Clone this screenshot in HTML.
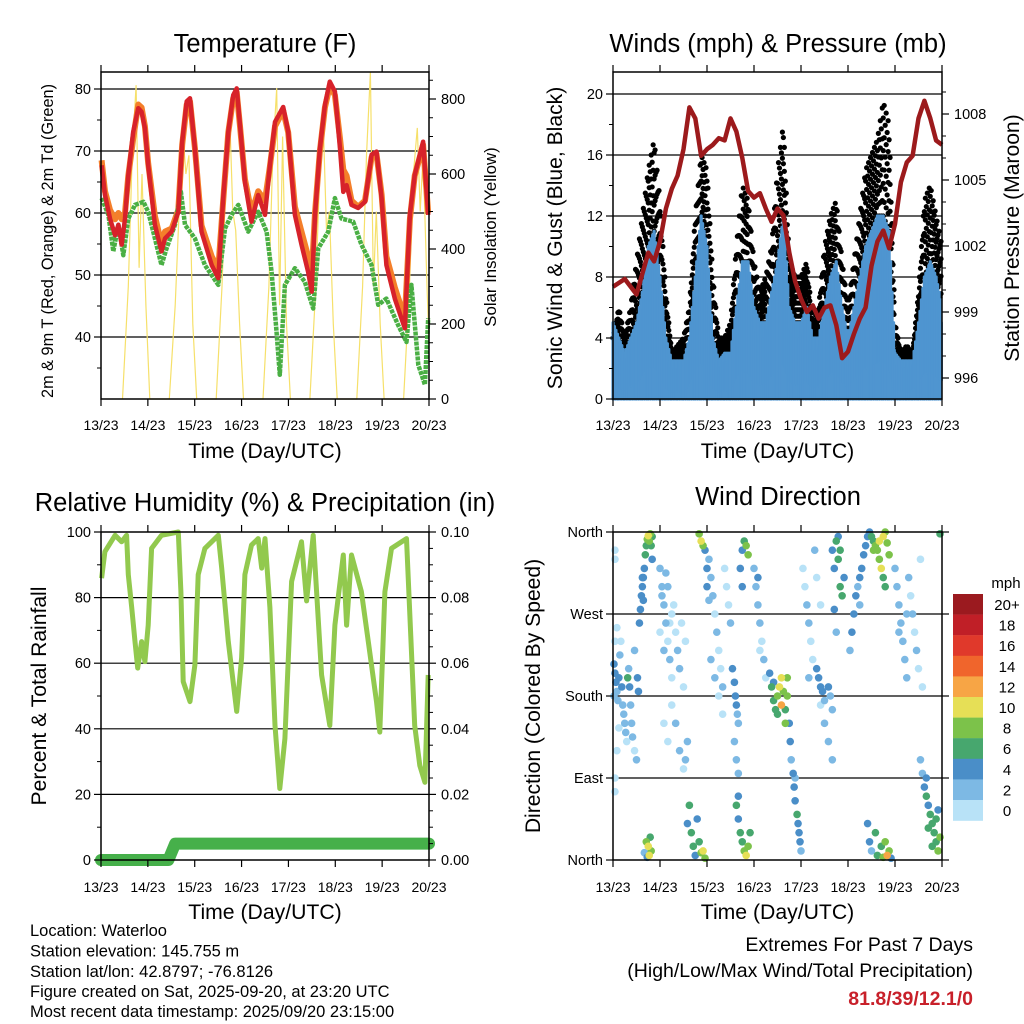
<!DOCTYPE html>
<html><head><meta charset="utf-8"><style>
html,body{margin:0;padding:0;background:#fff;}
svg{display:block;font-family:"Liberation Sans",Arial,sans-serif;}
</style></head><body>
<svg id="fig" width="1024" height="1024" viewBox="0 0 1024 1024" xmlns="http://www.w3.org/2000/svg">
<rect width="1024" height="1024" fill="#fff"/>
<g id="g1"></g>
<g id="g2"></g>
<g id="g3"></g>
<g id="g4"></g>
<g id="gtext">
<text x="30" y="936" font-size="16.5">Location: Waterloo</text>
<text x="30" y="956.5" font-size="16.5">Station elevation: 145.755 m</text>
<text x="30" y="977" font-size="16.5">Station lat/lon: 42.8797; -76.8126</text>
<text x="30" y="997" font-size="16.5">Figure created on Sat, 2025-09-20, at 23:20 UTC</text>
<text x="30" y="1017" font-size="16.5">Most recent data timestamp: 2025/09/20 23:15:00</text>
<text x="973" y="951" font-size="19.5" text-anchor="end">Extremes For Past 7 Days</text>
<text x="973" y="977" font-size="19.5" text-anchor="end">(High/Low/Max Wind/Total Precipitation)</text>
<text x="973" y="1005" font-size="19.5" font-weight="bold" fill="#c8202a" text-anchor="end">81.8/39/12.1/0</text>
</g>
</svg>
<script>
// ---------- DATA ----------
const dayLabels = ["13/23","14/23","15/23","16/23","17/23","18/23","19/23","20/23"];
// Temperature (F)
const tRedH = [0.3,2.05,4.6,7.2,8.9,10.6,12.3,14,16.5,19.1,20.8,22.5,24.2,27.6,31,32.8,36.2,39.6,41.6,43.9,45.6,48.1,51.5,56.7,60.1,62.6,65.2,67.7,69.5,71.2,73.7,77.1,80.5,84,86.5,89.1,93.3,95.9,99.3,102.7,106.1,107.9,109.6,112.1,114.7,117.2,119.8,122.4,124.1,125.8,128.3,131.7,135.2,138.6,141.1,143.7,146.2,150.5,155.6,158.2,160.7,165,167.6];
const tRed = [67.7,62.9,59.1,56.4,58.1,54.9,59.1,66.1,73.1,76.9,76.3,73.7,67.7,58.1,53.8,55.9,57,60.2,71.5,78,78.5,70.4,57,51.6,49.5,62.4,73.1,79,80.1,74.2,65,58.6,62.9,59.7,67.7,74.7,77.1,73.1,59.7,54.9,50.5,47.3,59.7,70.4,77.4,81.2,79.6,70.4,63.4,64.5,61.3,60.8,61.8,69.4,69.9,62.4,51.6,46.2,41.4,59.7,66.1,71.5,59.7];
const tOrange = [68.5,63.5,60.5,59,60,59,60,66,72,77.5,77,74,68,59.5,55,57,57.5,60.5,71,77.5,78,70.5,58,53,51,62,73,78.5,79.5,74,65.5,60,63.5,62,67.5,74,76.5,73,61,57,53,50,60,70,77,80.5,79,72,67,66,62,61,62,69,69.5,63,53,48,43,59,66,71,60];
const tdH = [0.3,3.8,6.3,8.9,11.4,14,17.4,21.7,24.2,27.6,31,33.6,37.9,40.9,43,48.1,53.2,60.1,63.5,66.9,70.3,75.4,80.5,84.8,87.4,89.9,91.6,94.2,99.3,104.4,108.7,111.3,116.4,119.8,123.2,129.2,133.4,138.6,142,146.2,152.2,156.5,159,162.5,165.9,167.6];
const td = [62.4,59.7,53.8,58.1,53.2,59.1,61.3,61.8,60.2,55.9,51.6,54.3,58.1,63.4,58.1,55.9,51.6,48.4,57.5,59.7,61.3,57,60.2,57,50.5,40.9,33.9,48.4,51.1,48.9,44.6,54.3,57,62.4,59.1,58.6,54.9,51.6,45.2,46.2,41.9,39.2,48.4,35.5,32.3,43];
const solarH = [11,14,16,18,19.5,21,23,25, 35,38,40,42,43.5,45,47,49, 59,62,64,66,67.5,69,71,73, 83,86,88,90,91.5,93,95,97, 107,110,112,114,115.5,117,119,121, 131,134,136,138,139.5,141,143,145, 155,158,160,162,163.5,165,167,168];
const solarV = [0,300,650,837,350,600,250,0, 0,250,500,704,600,650,200,0, 0,300,600,738,500,450,200,0, 0,300,650,829,250,700,200,0, 0,300,600,704,450,500,200,0, 0,300,650,872,300,500,200,0, 0,300,600,723,500,650,300,150];
// Winds (mph), 3-hourly
const windH = [0,3,6,9,12,15,18,21,24,27,30,33,36,39,42,45,48,51,54,57,60,63,66,69,72,75,78,81,84,87,90,93,96,99,102,105,108,111,114,117,120,123,126,129,132,135,138,141,144,147,150,153,156,159,162,165,168];
const gust = [4,6,4,6,9,12,15,17,13,7,3,3.5,4,6,12,16,15,8,4,4,5,10,14,13,9,7,8,10,15,18,9,8,8,9,5,6,10,12,13,9,6,9,12,15,16,17,19.5,18,5,3,3.5,3,7,13,14,12,10];
const wind = [5,4,3,4,5,7,10,11,8,4,2.5,2.5,2.5,4,8,12,10,4,2.5,3,3,6,9,9,6,5,5,7,9,12,6,5,5,6,4,4,6,8,9,6,4,6,8,10,11,12,12,11,3,2.5,2.5,2.5,5,8,9,8,6];
// Pressure (mb)
const presH = [0,6,12,18,21,24,27,30,33,36,39,42,45,48,51,54,57,60,63,66,69,72,75,78,81,84,87,90,93,96,99,102,105,108,111,114,117,120,123,126,129,132,135,138,141,144,147,150,153,156,159,162,165,168];
const pres = [1000.15,1000.5,999.8,1001.7,1001.3,1002.2,1003.7,1004.6,1005.2,1006.4,1008.3,1007.8,1006.1,1006.4,1006.6,1006.9,1006.8,1007.8,1007.2,1006.0,1004.5,1004.2,1004.4,1003.7,1003.1,1003.7,1003.4,1001.7,1000.4,999.6,999.0,999.3,998.7,999.2,999.3,998.4,996.9,997.2,998.0,998.7,999.2,1001.1,1002.2,1002.7,1001.9,1003.0,1004.9,1005.8,1006.1,1007.8,1008.6,1007.8,1006.8,1006.6];
// Relative humidity (%)
const rhH = [0.3,2,7.2,10.6,13.1,14,15.7,17.4,18.8,20.8,22.5,24.2,25.9,31,39.6,40.9,42.1,45.6,48.1,49.8,53.2,60.1,61.8,65.2,69.5,72,73.7,77.1,80.5,82.3,84,86.5,89.1,91.6,94.2,97.6,102.7,105.3,108.7,113,117.2,119.8,124.1,125.8,128.3,133.4,136.9,141.1,142.8,145.4,148.8,156.5,160.7,163.3,165.9,167.6];
const rh = [85.9,94,99,97,99,87,77,66.6,58.5,66.6,60.5,71.6,95,99,100,81.8,54.4,48.3,59.5,87,95,99,89,66.6,45.3,61.6,87,96,98,89,98,77,41,21.8,37,84.9,97,79,99,56.4,41,71.6,93,71.6,93,81.8,66.6,48.3,39,81.8,95,98,41,28.8,23.7,56.4];
// Precipitation (in)
const rainH = [0,34.5,38,168];
const rain = [0,0,0.005,0.005];
// Wind direction (hours, degrees, mph)
const dirH = [0.5,1,1.5,2,2.5,3,3.5,4,4.5,5,5.5,6,6.5,7,7.5,8,8.5,9,9.5,10,11,11,12,12.5,13,0.5,1,2,1,1,1,2,3,1,
13.5,14,14.5,15,15.5,16,16.5,17,17.5,18,18.5,19,19.5,20,20,15.5,15,
17,18,18.5,19,19.5,17.5,16,
24,25,26,27,28,29,30,24,26,28,30,32,33,34,36,25,27,31,29,35,37,
26,28,30,32,34,36,38,37,
38,39,40,41,42,43,44,45,46,47,
44,45,46,47,48,48,49,
49,50,51,52,53,54,55,56,57,58,59,60,50,52,54,56,
61,62,62.5,63,63.5,64,62,63,64,
63,64,65,66,67,68,69,70,64,
66,67,68,69,65,66,
72,73,74,75,76,77,78,74,75,
80,81,82,83,84,85,86,86,87,88,89,84,82,88,89,
90,90.5,91,92,92.5,93,94,94.5,95,95.5,96,93,
97,98,99,100,101,102,100,103,104,106,108,110,112,106,
104,105,106,107,108,110,111,112,
112,113,114,115,116,117,118,115,113,114,116,
122,123,124,125,126,127,128,129,130,131,121,126,
132,133,134,135,136,137,138,139,140,141,133,136,138,139,
130,131,132,134,135,137,138,139,140,141,142,
144,145,146,147,148,149,150,151,152,153,154,155,156,157,158,146,150,
157,158,159,160,161,162,163,164,165,166,167,161,163,165,166,160,167];
const dirD = [215,205,195,185,175,200,225,240,190,170,160,150,140,130,200,210,190,170,150,135,230,120,110,200,185,180,240,255,330,340,75,120,145,90,
260,275,290,300,310,320,335,345,352,356,350,358,345,355,330,285,310,
20,15,5,25,10,3,8,
320,300,280,260,240,220,200,250,230,300,270,250,230,210,190,290,315,280,260,260,240,
150,130,170,150,120,100,130,110,
40,60,30,15,5,45,20,8,10,2,
358,350,345,340,320,300,285,
330,310,290,270,250,230,210,190,320,300,280,260,220,200,180,160,
210,195,180,170,160,150,130,110,95,
60,45,30,20,10,5,15,30,70,
340,350,345,335,320,300,
320,300,280,260,240,220,200,310,230,
205,190,175,165,180,190,170,200,185,165,180,160,195,150,200,
150,130,110,95,80,65,50,40,30,20,10,90,
320,300,280,260,240,220,200,340,310,280,150,130,110,170,
210,200,190,185,175,190,180,165,
340,320,350,330,300,290,310,355,275,250,340,
250,270,290,300,310,320,335,345,355,360,230,280,
355,350,345,340,330,320,355,360,348,335,340,350,310,300,
40,20,10,30,5,15,3,20,5,10,2,
320,300,280,260,240,220,200,310,290,270,250,230,210,330,190,250,270,
110,95,80,70,60,50,40,30,20,10,25,35,15,45,55,90,358];
const dirS = [4,5,4,3,2,4,2,1,4,3,2,3,2,1,6,3,4,3,2,2,2,1,3,4,4,2,1,1,1,1,1,1,1,1,
4,4,4,4,5,5,6,7,9,10,8,9,6,7,5,4,4,
8,10,11,7,8,5,3,
2,3,2,2,1,2,1,1,2,2,1,1,2,2,1,3,3,1,1,1,1,
1,1,1,2,3,1,2,3,
5,7,6,6,4,5,7,9,10,8,
9,10,8,4,4,4,3,
2,2,2,1,2,1,1,2,1,1,1,2,3,3,1,1,
4,4,4,4,3,2,3,2,2,
6,5,6,6,8,10,8,7,4,
5,6,8,8,4,4,
2,3,3,2,1,2,1,4,1,
4,6,7,6,9,10,12,10,8,7,9,6,5,8,9,
4,4,3,4,4,5,6,5,4,4,3,3,
1,1,2,2,1,1,2,2,1,1,2,2,2,1,
4,4,4,4,3,4,3,3,
4,4,6,7,7,6,4,5,4,3,7,
4,4,4,3,4,4,4,4,4,4,3,3,
6,7,8,9,8,10,10,9,8,8,8,10,7,6,
4,4,3,6,6,7,8,8,12,9,5,
2,2,3,3,2,3,2,2,1,2,1,2,1,1,1,3,3,
2,3,5,6,5,6,7,6,7,8,8,6,6,6,4,4,6];
const cbLabels = ["20+","18","16","14","12","10","8","6","4","2","0"];
const cbColors = ["#9b1a1f","#c01f27","#e0392b","#f0652c","#f7a545","#e6df56","#7cc24a","#47a76e","#4a8ec8","#7db9e4","#b8e2f7"];

// ---------- HELPERS ----------
const NS="http://www.w3.org/2000/svg";
function mk(parent,tag,attrs,txt){const e=document.createElementNS(NS,tag);for(const k in attrs)e.setAttribute(k,attrs[k]);if(txt!==undefined)e.textContent=txt;parent.appendChild(e);return e;}
const X0L=101,X1L=429,X0R=613,X1R=942;
function xs(x0,x1){return h=>x0+h*(x1-x0)/168;}
function drawFrame(g,x0,x1,y0,y1,grid,name){
  grid.forEach(y=>{const l=mk(g,'line',{x1:x0,x2:x1,y1:y,y2:y,stroke:'#000','stroke-width':1.2});
    
    });
}
function drawBox(g,x0,x1,y0,y1,name){
  const r=mk(g,'rect',{x:x0,y:y0,width:x1-x0,height:y1-y0,fill:'none',stroke:'#000','stroke-width':1.5});
  
  
}
function xAxis(g,x0,x1,y0,y1,labY,titleY,name){
  const xf=xs(x0,x1);
  dayLabels.forEach((d,i)=>{const x=xf(i*24);
    mk(g,'line',{x1:x,x2:x,y1:y1,y2:y1+7,stroke:'#000','stroke-width':1.2});
    mk(g,'line',{x1:x,x2:x,y1:y0,y2:y0-7,stroke:'#000','stroke-width':1.2});
    const t=mk(g,'text',{x:x,y:labY,'font-size':14,'text-anchor':'middle'},d);
    
    });
  const tt=mk(g,'text',{x:(x0+x1)/2,y:titleY,'font-size':21.2,'text-anchor':'middle'},'Time (Day/UTC)');
  
  
}
function yTicks(g,x,vals,yf,labs,side,name,minor){
  vals.forEach((v,i)=>{const y=yf(v);
    const dx=side==='l'?-7:7;
    mk(g,'line',{x1:x,x2:x+dx,y1:y,y2:y,stroke:'#000','stroke-width':1.2});
    if(labs[i]!==''){const t=mk(g,'text',{x:side==='l'?x-10:x+12,y:y+5,'font-size':14.5,'text-anchor':side==='l'?'end':'start'},labs[i]);
      
      }
  });
  (minor||[]).forEach(v=>{const y=yf(v);const dx=side==='l'?-4:4;
    mk(g,'line',{x1:x,x2:x+dx,y1:y,y2:y,stroke:'#000','stroke-width':1});});
}
function vtitle(g,x,y,txt,fs,name){const t=mk(g,'text',{x:x,y:y,'font-size':fs,'text-anchor':'middle',transform:`rotate(-90 ${x} ${y})`},txt);
  
  }
function title(g,x,y,txt,name){const t=mk(g,'text',{x:x,y:y,'font-size':25.5,'text-anchor':'middle'},txt);
  
  }
function pts(H,V,xf,yf){return H.map((h,i)=>xf(h).toFixed(1)+','+yf(V[i]).toFixed(1)).join(' ');}
function speedColor(s){let i=Math.min(10,Math.floor(s/2));return cbColors[10-i];}

// ---------- PANEL 1 ----------
(function(){
const g=document.getElementById('g1');
const y0=72,y1=399,xf=xs(X0L,X1L);
const ty=v=>399-(v-30)*6.2, sy=v=>399-v*0.375;
title(g,265,52,'Temperature (F)','temperature-title');
drawFrame(g,X0L,X1L,y0,y1,[ty(40),ty(50),ty(60),ty(70),ty(80)],'temp');
const sl=mk(g,'polyline',{points:pts(solarH,solarV,xf,sy),fill:'none',stroke:'#f6e06a','stroke-width':1.2});


const o=mk(g,'polyline',{points:pts(tRedH,tOrange,xf,ty),fill:'none',stroke:'#f47f2a','stroke-width':6,'stroke-linejoin':'round'});


const gr=mk(g,'polyline',{points:pts(tdH,td,xf,ty),fill:'none',stroke:'#4aaf44','stroke-width':4.5,'stroke-dasharray':'4 1','stroke-linejoin':'round'});


const r=mk(g,'polyline',{points:pts(tRedH,tRed,xf,ty),fill:'none',stroke:'#d7222a','stroke-width':4.5,'stroke-linejoin':'round'});


drawBox(g,X0L,X1L,y0,y1,'temp');
yTicks(g,X0L,[40,50,60,70,80],ty,['40','50','60','70','80'],'l','temp-left',[35,45,55,65,75]);
yTicks(g,X1L,[0,200,400,600,800],sy,['0','200','400','600','800'],'r','solar-right',[50,100,150,250,300,350,450,500,550,650,700,750,850]);
xAxis(g,X0L,X1L,y0,y1,430,458,'temp');
vtitle(g,53,241,'2m & 9m T (Red, Orange) & 2m Td (Green)',16.3,'temp-y-axis-title');
vtitle(g,496,237,'Solar Insolation (Yellow)',16.8,'solar-y-axis-title');
})();

// ---------- PANEL 2 ----------
(function(){
const g=document.getElementById('g2');
const y0=72,y1=399,xf=xs(X0R,X1R);
const wy=v=>399-v*15.25, py=v=>378-(v-996)*22;
title(g,778,52,'Winds (mph) & Pressure (mb)','winds-title');
drawFrame(g,X0R,X1R,y0,y1,[wy(4),wy(8),wy(12),wy(16),wy(20)],'wind');
// black gust dots
for(let i=0;i<windH.length-1;i++){
  for(let s=0;s<6;s++){const f=s/6;
    const h=windH[i]+f*(windH[i+1]-windH[i]);
    const gv=gust[i]+f*(gust[i+1]-gust[i]);
    const wv=wind[i]+f*(wind[i+1]-wind[i]);
    for(let k=0;k<4;k++){const v=wv+(gv-wv)*((k+((s%2)*0.5))/3.5);
      const c=mk(g,'circle',{cx:xf(h),cy:wy(Math.min(v,gv)),r:2.6,fill:'#000'});
      
      }
  }
}
// blue wind spikes
for(let i=0;i<windH.length-1;i++){
  for(let s=0;s<8;s++){const f=s/8;
    const h=windH[i]+f*(windH[i+1]-windH[i]);
    const wv=wind[i]+f*(wind[i+1]-wind[i]);
    const top=wv*(s%2?0.8:1), lo=wv*(s%3===0?0:0.2);
    const l=mk(g,'line',{x1:xf(h),x2:xf(h),y1:wy(lo),y2:wy(top),stroke:'#4f95d0','stroke-width':3.2,'stroke-linecap':'round'});
    
    }
}
const p=mk(g,'polyline',{points:pts(presH,pres,xf,py),fill:'none',stroke:'#9c1a1c','stroke-width':4.5,'stroke-linejoin':'round'});


drawBox(g,X0R,X1R,y0,y1,'wind');
yTicks(g,X0R,[0,4,8,12,16,20],wy,['0','4','8','12','16','20'],'l','wind-left',[2,6,10,14,18]);
yTicks(g,X1R,[996,999,1002,1005,1008],py,['996','999','1002','1005','1008'],'r','pressure-right',[997,998,1000,1001,1003,1004,1006,1007,1009]);
xAxis(g,X0R,X1R,y0,y1,430,458,'wind');
vtitle(g,562,238,'Sonic Wind & Gust (Blue, Black)',21.1,'wind-y-axis-title');
vtitle(g,1019,238,'Station Pressure (Maroon)',21.1,'pressure-y-axis-title');
})();

// ---------- PANEL 3 ----------
(function(){
const g=document.getElementById('g3');
const y0=532,y1=860,xf=xs(X0L,X1L);
const ry=v=>860-v*3.28, qy=v=>860-v*3280;
title(g,265,511,'Relative Humidity (%) & Precipitation (in)','humidity-title');
drawFrame(g,X0L,X1L,y0,y1,[ry(20),ry(40),ry(60),ry(80)],'rh');
const l=mk(g,'polyline',{points:pts(rhH,rh,xf,ry),fill:'none',stroke:'#92c94e','stroke-width':5,'stroke-linejoin':'round'});


const q=mk(g,'polyline',{points:pts(rainH,rain,xf,qy),fill:'none',stroke:'#46b04a','stroke-width':12,'stroke-linecap':'round','stroke-linejoin':'round'});


drawBox(g,X0L,X1L,y0,y1,'rh');
yTicks(g,X0L,[0,20,40,60,80,100],ry,['0','20','40','60','80','100'],'l','rh-left',[10,30,50,70,90]);
yTicks(g,X1L,[0,0.02,0.04,0.06,0.08,0.1],qy,['0.00','0.02','0.04','0.06','0.08','0.10'],'r','precip-right',[0.005,0.01,0.015,0.025,0.03,0.035,0.045,0.05,0.055,0.065,0.07,0.075,0.085,0.09,0.095]);
xAxis(g,X0L,X1L,y0,y1,892,919,'rh');
vtitle(g,46,696,'Percent & Total Rainfall',21.1,'rh-y-axis-title');
})();

// ---------- PANEL 4 ----------
(function(){
const g=document.getElementById('g4');
const y0=532,y1=860,xf=xs(X0R,X1R);
const dy=v=>860-v*328/360;
title(g,778,505,'Wind Direction','wind-direction-title');
drawFrame(g,X0R,X1R,y0,y1,[dy(90),dy(180),dy(270)],'dir');
const order=dirS.map((s,i)=>i).sort((a,b)=>dirS[a]-dirS[b]);
order.forEach(i=>{const c=mk(g,'circle',{cx:xf(dirH[i]),cy:dy(dirD[i]),r:3.8,fill:speedColor(dirS[i])});
  
  });
drawBox(g,X0R,X1R,y0,y1,'dir');
yTicks(g,X0R,[0,90,180,270,360],dy,['North','East','South','West','North'],'l','dir-left',[]);
yTicks(g,X1R,[0,90,180,270,360],dy,['','','','',''],'r','dir-right',[]);
xAxis(g,X0R,X1R,y0,y1,892,919,'dir');
vtitle(g,540,696,'Direction (Colored By Speed)',21.1,'dir-y-axis-title');
const m=mk(g,'text',{x:1006,y:588,'font-size':15,'text-anchor':'middle'},'mph');


cbLabels.forEach((lab,i)=>{const y=594+i*20.6;
  const r=mk(g,'rect',{x:953,y:y,width:30,height:20.8,fill:cbColors[i]});
  
  
  const t=mk(g,'text',{x:1007,y:y+16,'font-size':15,'text-anchor':'middle'},lab);
  
  });
})();
</script>
</body></html>
